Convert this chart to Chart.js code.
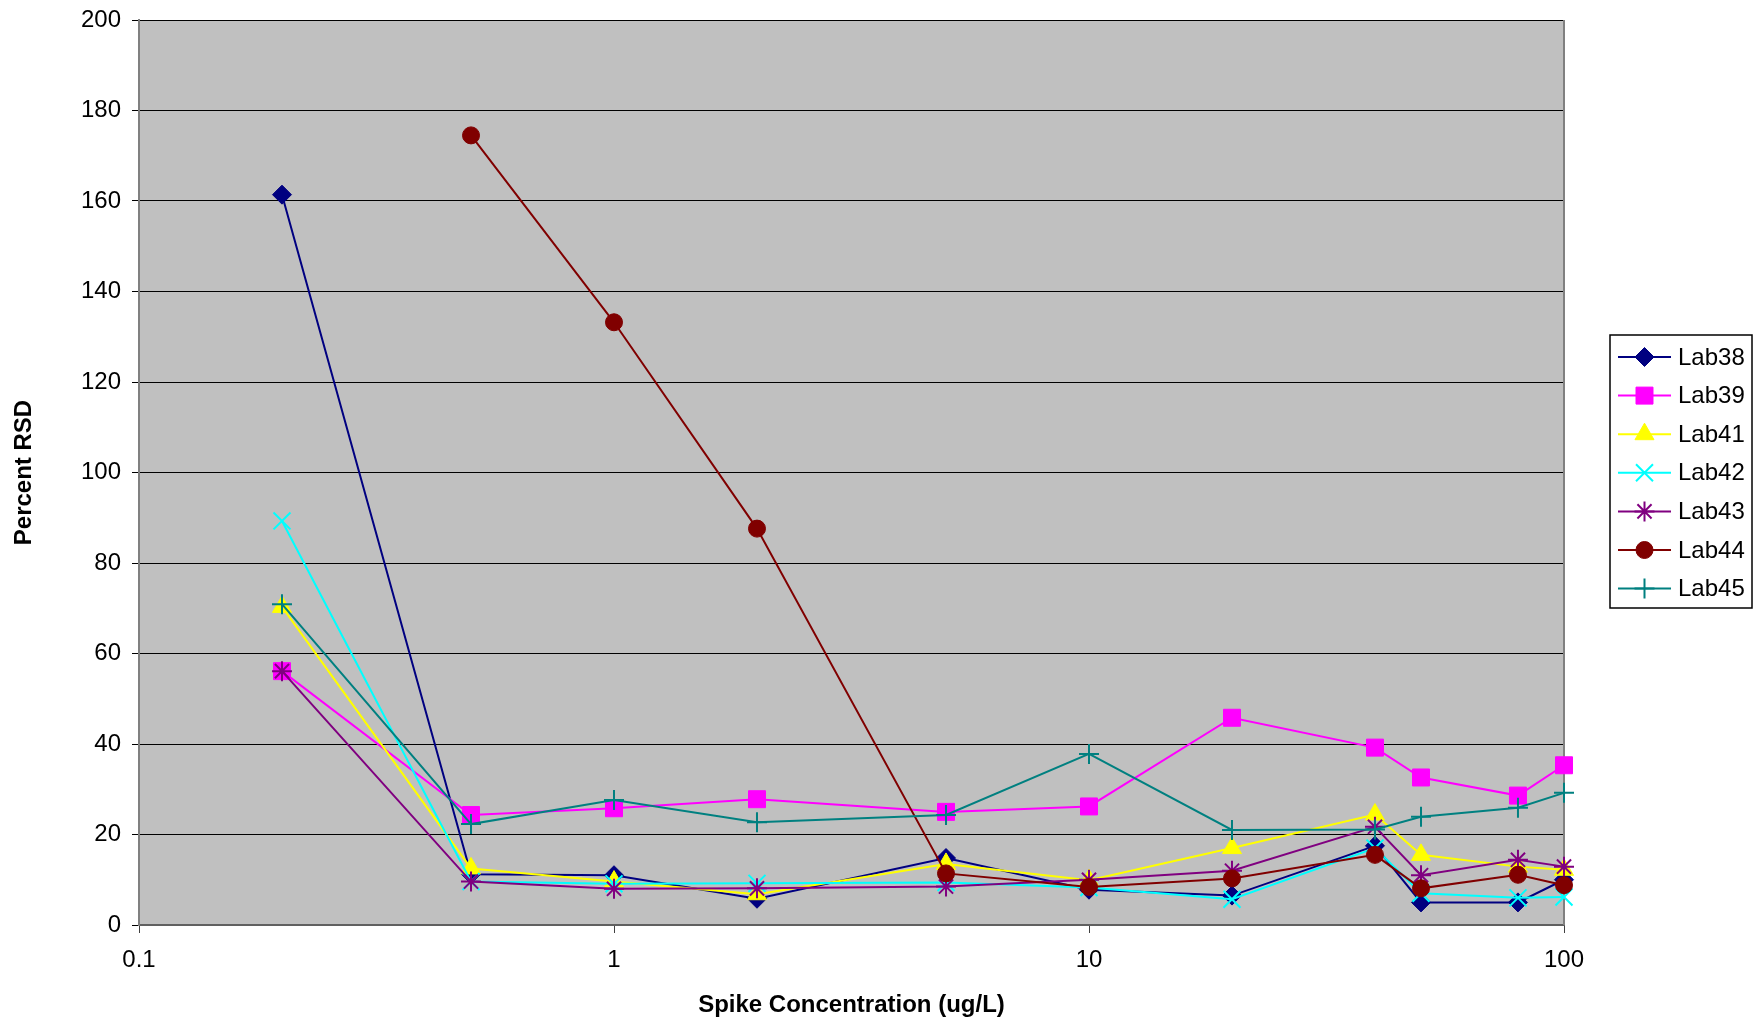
<!DOCTYPE html>
<html>
<head>
<title>Percent RSD vs Spike Concentration</title>
<script src="https://cdn.jsdelivr.net/npm/chart.js"></script>
<style>
  body { margin: 0; background: #fff; }
  #wrap { width: 1756px; height: 1020px; }
</style>
</head>
<body>
<div id="wrap"><canvas id="rsdChart" width="1756" height="1020"></canvas></div>
<script>
// spike concentrations (ug/L)
const spikeConc = [0.2, 0.5, 1, 2, 5, 10, 20, 40, 50, 80, 100];

const lab38 = [161.4, 11.2, 11.0, 5.8, 14.8, 7.8, 6.5, 17.5, 5.0, 5.0, 10.0];
const lab39 = [56.1, 24.3, 25.8, 27.8, 25.0, 26.2, 45.8, 39.2, 32.6, 28.6, 35.3];
const lab41 = [70.3, 12.5, 9.6, 6.8, 13.5, 9.9, 17.0, 24.4, 15.5, 12.9, 12.2];
const lab42 = [89.3, 9.6, 9.1, 9.2, 9.4, 8.3, 5.7, 17.0, 7.0, 6.0, 6.2];
const lab43 = [56.1, 9.6, 8.0, 8.1, 8.5, 10.0, 12.0, 21.7, 11.0, 14.4, 12.9];
const lab44 = [null, 174.5, 133.2, 87.6, 11.4, 8.4, 10.3, 15.5, 8.1, 11.1, 8.8];
const lab45 = [70.9, 22.3, 27.6, 22.7, 24.3, 37.8, 21.0, 21.1, 23.9, 25.9, 29.2];

const xTicks = [0.1, 1, 10, 100];
const xTickLabels = ['0.1', '1', '10', '100'];

const FONT = "'Liberation Sans', Arial, sans-serif";

// name, data, colour, marker, size, fill marker?
const seriesList = [
  ['Lab38', lab38, '#000080', 'rectRot', 9.5, true],
  ['Lab39', lab39, '#FF00FF', 'rect', 12, true],
  ['Lab41', lab41, '#FFFF00', 'triangle', 11, true],
  ['Lab42', lab42, '#00FFFF', 'crossRot', 12, false],
  ['Lab43', lab43, '#800080', 'star', 10, false],
  ['Lab44', lab44, '#800000', 'circle', 8.5, true],
  ['Lab45', lab45, '#008080', 'cross', 10, false]
];

const datasets = seriesList.map((s, i) => ({
  label: s[0],
  data: spikeConc.map((x, j) => ({x: x, y: s[1][j]})),
  borderColor: s[2],
  backgroundColor: s[2],
  borderWidth: 2,
  pointStyle: s[3],
  pointRadius: s[4],
  pointBorderWidth: s[5] ? 1 : 2,
  pointBackgroundColor: s[2],
  pointBorderColor: s[2],
  tension: 0,
  clip: false,
  order: seriesList.length - i   // later series drawn on top, like excel
}));

const plotBg = {
  id: 'plotBg',
  beforeDraw(chart) {
    const {ctx, chartArea: a} = chart;
    ctx.save();
    ctx.fillStyle = '#fff';
    ctx.fillRect(0, 0, chart.width, chart.height);
    ctx.fillStyle = '#C0C0C0';
    ctx.fillRect(a.left, a.top, a.right - a.left, a.bottom - a.top);
    ctx.restore();
  },
  beforeDatasetsDraw(chart) {
    const {ctx, chartArea: a} = chart;
    ctx.save();
    ctx.strokeStyle = '#808080';
    ctx.lineWidth = 2;
    ctx.beginPath();
    ctx.moveTo(a.right, a.top);
    ctx.lineTo(a.right, a.bottom);
    ctx.stroke();
    ctx.restore();
  }
};

// excel style legend box: line + marker + label
const boxLegend = {
  id: 'boxLegend',
  afterDraw(chart) {
    const ctx = chart.ctx;
    const bx = 1610, by = 335, bw = 142, bh = 273;
    const rowH = 38.6, firstY = 357;
    ctx.save();
    ctx.fillStyle = '#fff';
    ctx.fillRect(bx, by, bw, bh);
    ctx.strokeStyle = '#000';
    ctx.lineWidth = 1.5;
    ctx.strokeRect(bx, by, bw, bh);
    ctx.font = '24px ' + FONT;
    ctx.textBaseline = 'middle';
    ctx.textAlign = 'left';
    chart.data.datasets.forEach((ds, i) => {
      const y = firstY + i * rowH;
      ctx.strokeStyle = ds.borderColor;
      ctx.lineWidth = 2;
      ctx.beginPath();
      ctx.moveTo(1618, y);
      ctx.lineTo(1671, y);
      ctx.stroke();
      ctx.fillStyle = ds.pointBackgroundColor;
      ctx.strokeStyle = ds.pointBorderColor;
      ctx.lineWidth = ds.pointBorderWidth;
      if (Chart.helpers && Chart.helpers.drawPoint) {
        Chart.helpers.drawPoint(ctx, {
          pointStyle: ds.pointStyle,
          radius: ds.pointRadius,
          rotation: 0,
          borderWidth: ds.pointBorderWidth
        }, 1644.5, y);
      }
      ctx.fillStyle = '#000';
      ctx.fillText(ds.label, 1678, y + 1);
    });
    ctx.restore();
  }
};

new Chart(document.getElementById('rsdChart'), {
  type: 'line',
  data: {datasets: datasets},
  plugins: [plotBg, boxLegend],
  options: {
    responsive: false,
    animation: false,
    layout: {padding: {left: 0, right: 192, top: 20, bottom: 0}},
    plugins: {
      legend: {display: false},
      tooltip: {enabled: false}
    },
    scales: {
      x: {
        type: 'logarithmic',
        min: 0.1,
        max: 100,
        afterBuildTicks: (scale) => {
          scale.ticks = xTicks.map(v => ({value: v}));
        },
        afterFit: (scale) => { scale.height = 95; },
        ticks: {
          autoSkip: false,
          maxRotation: 0,
          padding: 13,
          color: '#000',
          font: {family: FONT, size: 24},
          callback: (v) => {
            const k = xTicks.indexOf(v);
            return k >= 0 ? xTickLabels[k] : '';
          }
        },
        grid: {
          drawOnChartArea: false,
          drawTicks: true,
          tickLength: 8,
          color: '#404040'
        },
        border: {color: '#606060', width: 2},
        title: {
          display: true,
          text: 'Spike Concentration (ug/L)',
          color: '#000',
          font: {family: FONT, size: 24, weight: 'bold'},
          padding: {top: 0, bottom: 0}
        }
      },
      y: {
        min: 0,
        max: 200,
        afterFit: (scale) => {
          scale.width = 139;
          scale.paddingTop = 0;
          scale.paddingBottom = 0;
        },
        ticks: {
          stepSize: 20,
          padding: 11,
          color: '#000',
          font: {family: FONT, size: 24}
        },
        grid: {
          color: '#000',
          lineWidth: 1,
          tickLength: 7
        },
        border: {color: '#808080', width: 2},
        title: {
          display: true,
          text: 'Percent RSD',
          color: '#000',
          font: {family: FONT, size: 24, weight: 'bold'},
          padding: {top: 10, bottom: 0}
        }
      }
    }
  }
});
</script>
</body>
</html>
